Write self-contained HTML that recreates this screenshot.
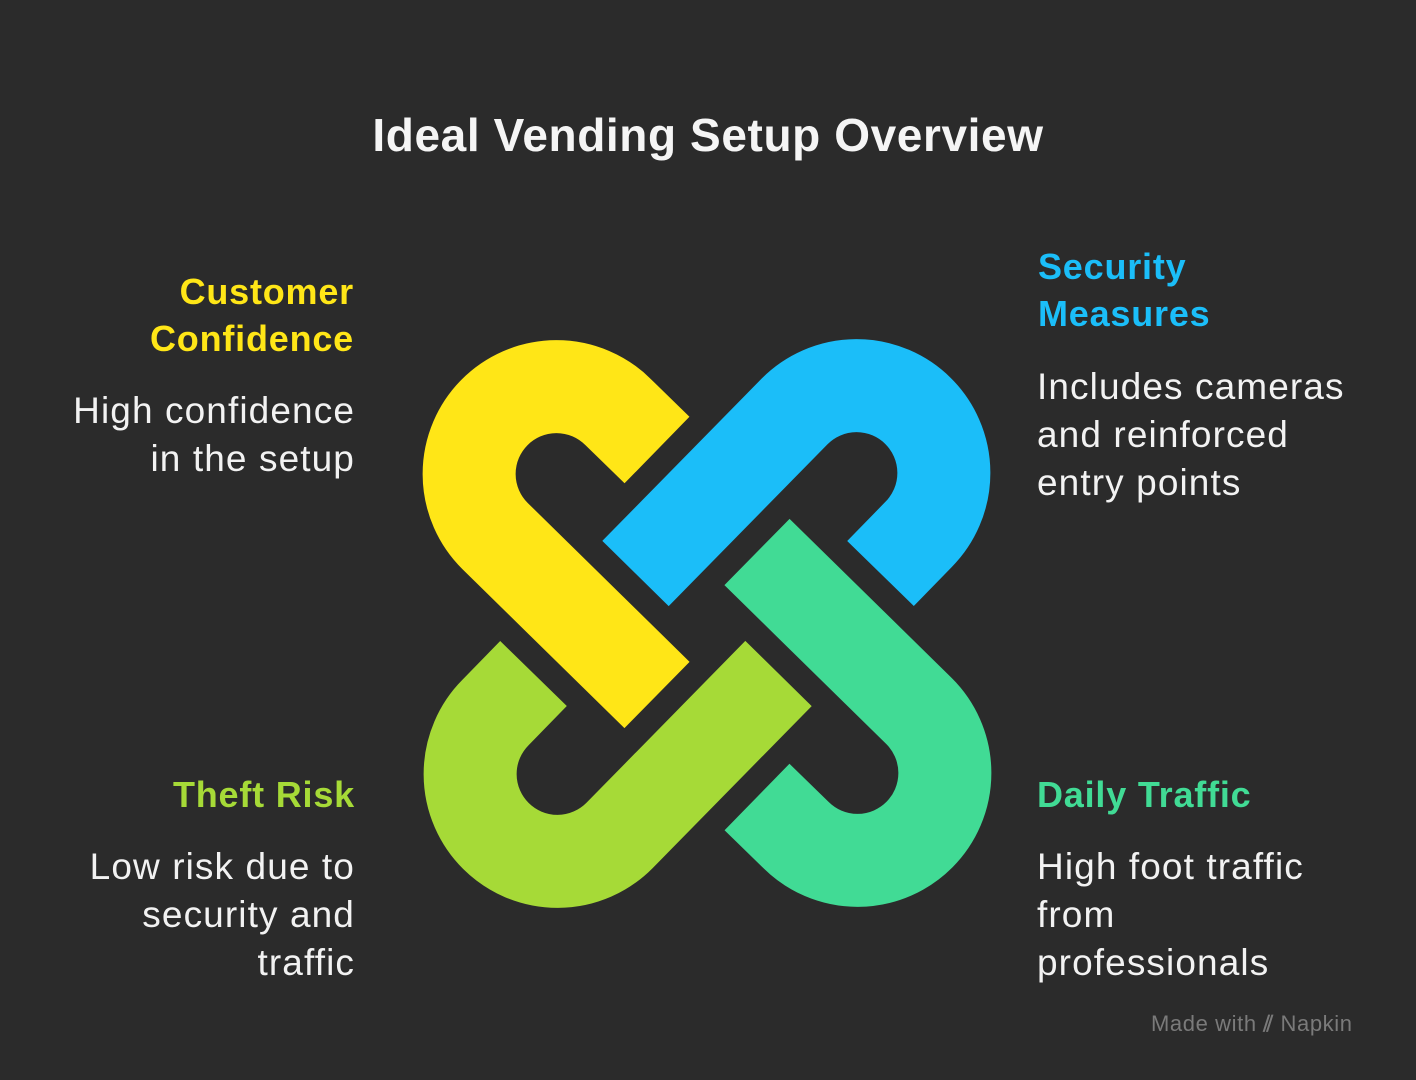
<!DOCTYPE html>
<html><head><meta charset="utf-8"><style>
html,body{margin:0;padding:0;background:#2b2b2b;}
body{width:1416px;height:1080px;position:relative;overflow:hidden;font-family:"Liberation Sans",sans-serif;}
.t{position:absolute;white-space:nowrap;}
.h{font-weight:bold;font-size:36px;line-height:47px;letter-spacing:0.8px;}
.b{font-size:37px;line-height:48px;color:#f2f2f2;letter-spacing:1.1px;}
.r{text-align:right;}
</style></head><body>
<div class="t" style="left:0;width:1416px;text-align:center;top:108px;font-size:46px;font-weight:bold;color:#f5f5f5;letter-spacing:0.6px;">Ideal Vending Setup Overview</div>

<svg width="1416" height="1080" style="position:absolute;left:0;top:0">
<defs><path id="u" d="M657,450 L618,412 A87,87 0 1 0 495,536 L657,695" fill="none" stroke-width="93" stroke-linecap="butt"/></defs>
<use href="#u" stroke="#FFE617"/>
<use href="#u" stroke="#1BBEF9" transform="rotate(90 707 623.5)"/>
<use href="#u" stroke="#41DB95" transform="rotate(180 707 623.5)"/>
<use href="#u" stroke="#A6DA37" transform="rotate(270 707 623.5)"/>
</svg>

<div class="t h r" style="right:1062px;top:268px;color:#FFE617;">Customer<br>Confidence</div>
<div class="t b r" style="right:1061px;top:387px;">High confidence<br>in the setup</div>

<div class="t h" style="left:1038px;top:243px;color:#1BBEF9;">Security<br>Measures</div>
<div class="t b" style="left:1037px;top:363px;">Includes cameras<br>and reinforced<br>entry points</div>

<div class="t h r" style="right:1061px;top:771px;color:#A6DA37;">Theft Risk</div>
<div class="t b r" style="right:1061px;top:843px;">Low risk due to<br>security and<br>traffic</div>

<div class="t h" style="left:1037px;top:771px;color:#41DB95;">Daily Traffic</div>
<div class="t b" style="left:1037px;top:843px;">High foot traffic<br>from<br>professionals</div>

<div class="t" style="left:1151px;top:1011px;font-size:22px;color:#7a7a7a;letter-spacing:0.6px;">Made with <span style="font-weight:bold">⫽</span> Napkin</div>
</body></html>
